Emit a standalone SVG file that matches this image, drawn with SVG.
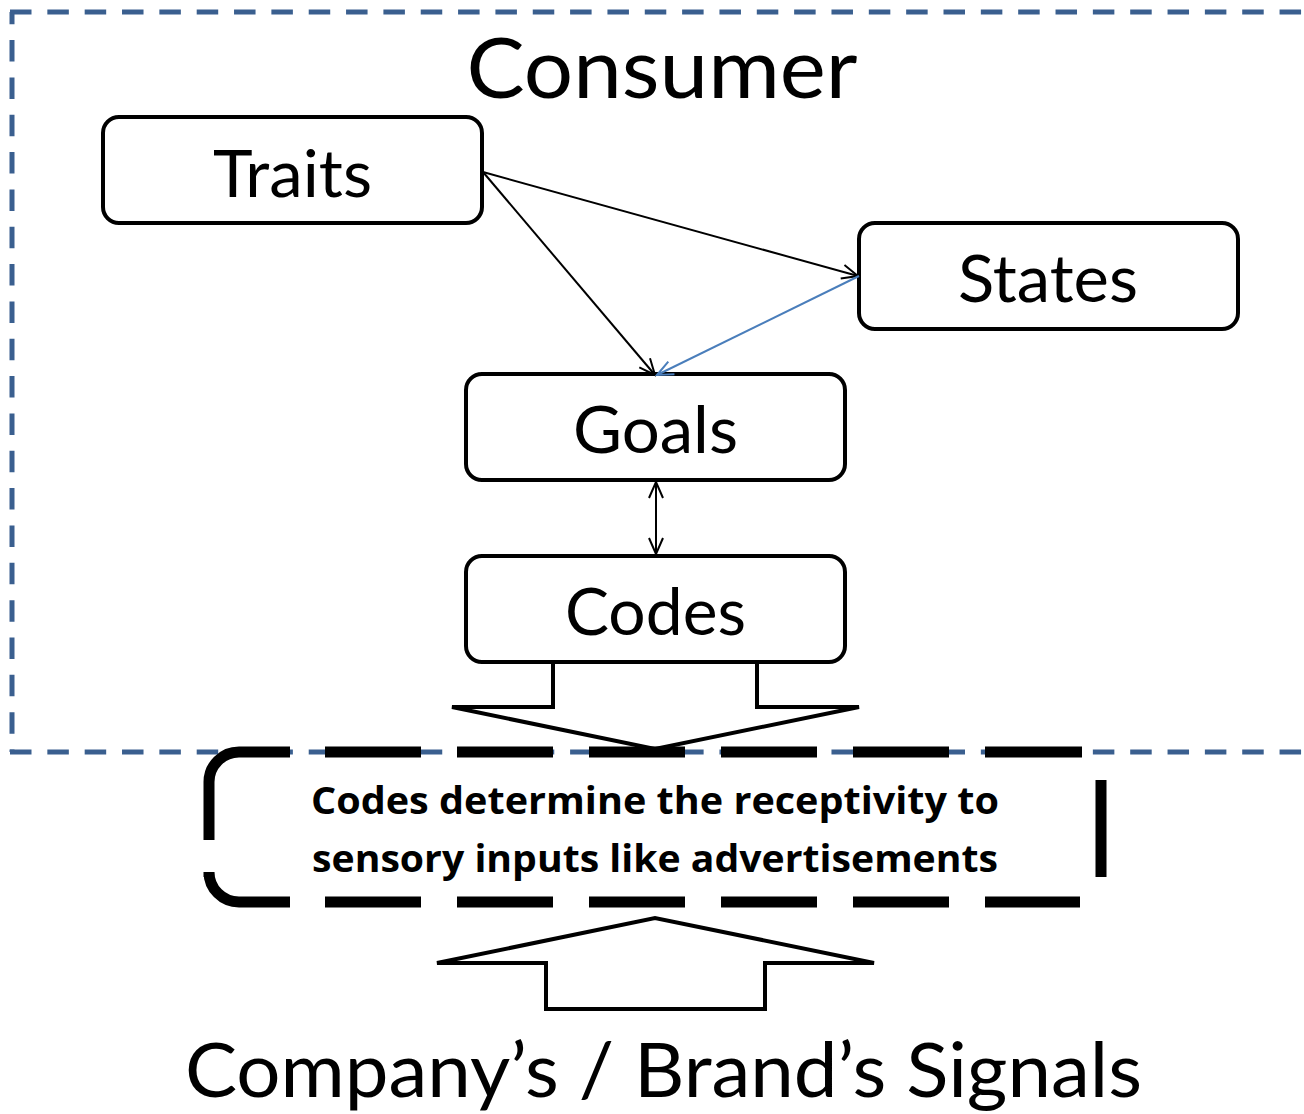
<svg xmlns="http://www.w3.org/2000/svg" width="1304" height="1114" viewBox="0 0 1304 1114">
  <style>
    .box { fill: #ffffff; stroke: #000000; stroke-width: 4; }
    .label { font-family: Lato, "Open Sans", "Liberation Sans", sans-serif; fill: #000000; text-anchor: middle; font-variant-ligatures: none; }
    .note { font-family: "Open Sans", Lato, "Liberation Sans", sans-serif; font-weight: bold; font-size: 37px; }
    .big { font-size: 65px; }
    .frame { fill: none; stroke: #3a5f8f; stroke-width: 5; stroke-dasharray: 21.5 15.84; }
    .link { fill: none; stroke: #000000; stroke-width: 2; }
    .blue { stroke: #4a7ebb; }
    .block { fill: #ffffff; stroke: #000000; stroke-width: 4; stroke-linejoin: miter; }
  </style>
  <defs>
    <marker id="vee" markerUnits="userSpaceOnUse" markerWidth="20" markerHeight="20" viewBox="0 0 20 20" refX="18" refY="10" orient="auto-start-reverse">
      <path d="M2,3 L18,10 L2,17" fill="none" stroke="#000000" stroke-width="2"/>
    </marker>
    <marker id="vee-blue" markerUnits="userSpaceOnUse" markerWidth="20" markerHeight="20" viewBox="0 0 20 20" refX="18" refY="10" orient="auto">
      <path d="M2,3 L18,10 L2,17" fill="none" stroke="#4a7ebb" stroke-width="2"/>
    </marker>
  </defs>

  <rect width="1304" height="1114" fill="#ffffff"/>

  <!-- consumer boundary (open on the right) -->
  <g id="consumer-frame">
    <path class="frame" d="M10,12 H1304"/>
    <path class="frame" d="M10,752 H1304"/>
    <path class="frame" d="M12,12 V752" stroke-dashoffset="9.3"/>
    <text class="label" x="662" y="98" font-size="84" textLength="391" lengthAdjust="spacingAndGlyphs">Consumer</text>
  </g>

  <!-- block arrow from Codes down into the receptivity box -->
  <g id="arrow-down">
    <path class="block" d="M553,662 V707 H452 L655,749 L859,707 H757 V662"/>
  </g>

  <!-- block arrow from the signals up into the receptivity box -->
  <g id="arrow-up">
    <path class="block" d="M546,1009 V963 H437 L655,918 L874,963 H765 V1009 Z"/>
  </g>

  <g id="traits">
    <rect class="box" x="103" y="117" width="379" height="106" rx="16"/>
    <text class="label big" x="292.5" y="197" textLength="159" lengthAdjust="spacingAndGlyphs">Traits</text>
  </g>

  <g id="states">
    <rect class="box" x="859" y="223" width="379" height="106" rx="16"/>
    <text class="label big" x="1048" y="302" textLength="180" lengthAdjust="spacingAndGlyphs">States</text>
  </g>

  <g id="goals">
    <rect class="box" x="466" y="374" width="379" height="106" rx="16"/>
    <text class="label big" x="655.5" y="453" textLength="165" lengthAdjust="spacingAndGlyphs">Goals</text>
  </g>

  <g id="codes">
    <rect class="box" x="466" y="556" width="379" height="106" rx="16"/>
    <text class="label big" x="655.5" y="635" textLength="181" lengthAdjust="spacingAndGlyphs">Codes</text>
  </g>

  <!-- long-dashed rounded box with the receptivity note -->
  <g id="receptivity">
    <path fill="none" stroke="#000000" stroke-width="11" d="M209,840 V782 A30,30 0 0 1 239,752 H290 M325,752 H421 M457,752 H553 M589,752 H685 M721,752 H817 M853,752 H949 M985,752 H1082 M209,877 V872 A30,30 0 0 0 239,902 H290 M325,902 H421 M457,902 H553 M589,902 H685 M721,902 H817 M853,902 H949 M985,902 H1080 M1101,780 V877"/>
    <text class="label note" x="655" y="814" textLength="688" lengthAdjust="spacingAndGlyphs">Codes determine the receptivity to</text>
    <text class="label note" x="655" y="872" textLength="686" lengthAdjust="spacingAndGlyphs">sensory inputs like advertisements</text>
  </g>

  <g id="signals">
    <text class="label" x="663.5" y="1097" font-size="75" textLength="957" lengthAdjust="spacingAndGlyphs">Company’s / Brand’s Signals</text>
  </g>

  <!-- connectors -->
  <g id="connectors">
    <line class="link" x1="483" y1="172" x2="858" y2="276" marker-end="url(#vee)"/>
    <line class="link" x1="483" y1="172" x2="655" y2="375" marker-end="url(#vee)"/>
    <line class="link blue" x1="859" y1="276" x2="657" y2="375" marker-end="url(#vee-blue)"/>
    <line class="link" x1="656" y1="482" x2="656" y2="554" marker-start="url(#vee)" marker-end="url(#vee)"/>
  </g>
</svg>
